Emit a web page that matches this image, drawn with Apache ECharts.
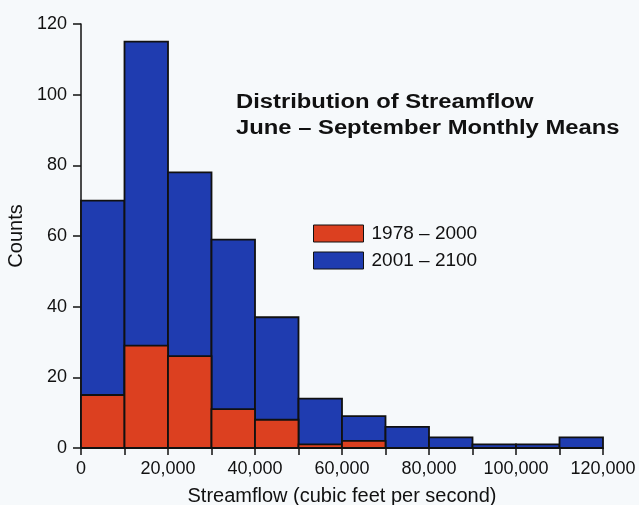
<!DOCTYPE html>
<html><head><meta charset="utf-8">
<script src="https://cdn.jsdelivr.net/npm/echarts@6/dist/echarts.min.js"></script>
<style>html,body{margin:0;padding:0;background:#f6f9fb;}#c{width:639px;height:505px;}</style>
</head><body><div id="c"></div>
<script>
// Histogram bin edges (cubic feet per second)
const binStarts = [0,10000,20000,30000,40000,50000,60000,70000,80000,90000,100000,110000];
const binWidth = 10000;
// Counts
const counts2001_2100 = [70,115,78,59,37,14,9,6,3,1,1,3];
const counts1978_2000 = [15,29,26,11,8,1,2,0,0,0,0,0];
const xTicks = [0,20000,40000,60000,80000,100000,120000];
const yTicks = [0,20,40,60,80,100,120];
const titleLines = ['Distribution of Streamflow','June – September Monthly Means'];

const FONT = 'Liberation Sans, Arial, sans-serif';
const RED = '#dc4020', BLUE = '#1f3cb0';
function mk(counts){ return binStarts.map((s,i)=>[s, s+binWidth, counts[i]]); }
function render(params, api){
  const x0 = api.value(0), x1 = api.value(1), v = api.value(2);
  if (!v) return;
  const p0 = api.coord([x0, v]);
  const p1 = api.coord([x1, 0]);
  return {type:'rect', shape:{x:p0[0], y:p0[1], width:p1[0]-p0[0], height:p1[1]-p0[1]},
    style:{fill:api.visual('color'), stroke:'#111', lineWidth:1.8}};
}
const chart = echarts.init(document.getElementById('c'), null, {renderer:'canvas'});
chart.setOption({
  backgroundColor:'#f6f9fb',
  animation:false,
  textStyle:{fontFamily:FONT},
  grid:{left:81, right:36, top:24, bottom:57, containLabel:false, outerBoundsMode:'none'},
  graphic:titleLines.map((t,i)=>({
    type:'text', x:236, y:102+i*26.4, scaleX:1.19, scaleY:1, z:10,
    style:{text:t, font:'bold 20px ' + FONT, fill:'#111', verticalAlign:'middle', align:'left'}
  })),
  legend:{orient:'vertical', left:308, top:219, itemWidth:50, itemHeight:17, itemGap:8, icon:'rect',
    data:['1978 – 2000','2001 – 2100'],
    itemStyle:{borderColor:'#111', borderWidth:1},
    textStyle:{fontSize:19, color:'#111', padding:[0,0,0,3]}},
  xAxis:{type:'value', min:0, max:120000, interval:10000,
    name:'Streamflow (cubic feet per second)', nameLocation:'middle', nameGap:38,
    nameTextStyle:{fontSize:20, color:'#111'},
    axisLine:{lineStyle:{color:'#111', width:1.5}},
    axisTick:{length:7, lineStyle:{color:'#111', width:1.5}},
    axisLabel:{fontSize:18, color:'#111', margin:12,
      formatter:v=> xTicks.includes(v) ? v.toLocaleString('en-US') : ''},
    splitLine:{show:false}},
  yAxis:{type:'value', min:0, max:120, interval:20,
    name:'Counts', nameLocation:'middle', nameGap:53, nameRotate:90,
    nameTextStyle:{fontSize:20, color:'#111'},
    axisLine:{show:true, lineStyle:{color:'#111', width:1.5}},
    axisTick:{show:true, length:8, lineStyle:{color:'#111', width:1.5}},
    axisLabel:{fontSize:18, color:'#111', margin:14,
      formatter:v=> yTicks.includes(v) ? String(v) : ''},
    splitLine:{show:false}},
  series:[
    {name:'2001 – 2100', type:'custom', renderItem:render, data:mk(counts2001_2100),
      itemStyle:{color:BLUE}, encode:{x:[0,1], y:2}, z:1},
    {name:'1978 – 2000', type:'custom', renderItem:render, data:mk(counts1978_2000),
      itemStyle:{color:RED}, encode:{x:[0,1], y:2}, z:2}
  ]
});
</script></body></html>
